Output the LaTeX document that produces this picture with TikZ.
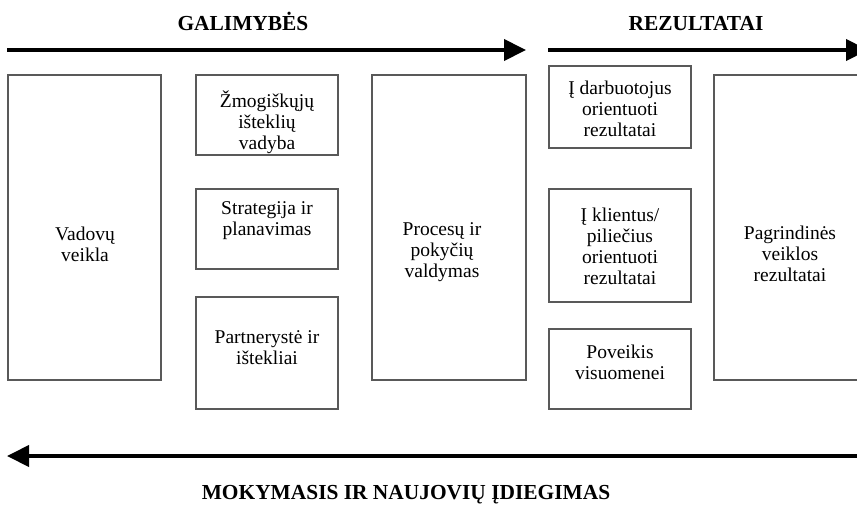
\documentclass[tikz,border=0pt]{standalone}
\usepackage{fontspec}
\setmainfont{Liberation Serif}
\usetikzlibrary{arrows.meta}
\begin{document}
\begin{tikzpicture}[x=1pt,y=-1pt,
  boxst/.style={draw=black!65, line width=1.3pt, inner sep=0pt},
  txt/.style={align=center, font=\fontsize{19.5}{21}\selectfont, inner sep=0pt},
  ttl/.style={font=\fontsize{21.4}{24}\selectfont\bfseries, inner sep=0pt, anchor=base},
  bigarrow/.style={line width=4pt, -{Triangle[length=22pt,width=21pt]}}]
\useasboundingbox (0,0) rectangle (857,504);
% boxes
\node[boxst, minimum width=153pt, minimum height=305pt] (vad) at (84.5,227.5) {};
\node[boxst, minimum width=142pt, minimum height=80pt] (zmo) at (267,115) {};
\node[boxst, minimum width=142pt, minimum height=80pt] (str) at (267,229) {};
\node[boxst, minimum width=142pt, minimum height=112pt] (par) at (267,353) {};
\node[boxst, minimum width=154pt, minimum height=305pt] (pro) at (449,227.5) {};
\node[boxst, minimum width=142pt, minimum height=82pt] (dar) at (620,107) {};
\node[boxst, minimum width=142pt, minimum height=113pt] (kli) at (620,245.5) {};
\node[boxst, minimum width=142pt, minimum height=80pt] (pov) at (620,369) {};
% right box, cut off by the page edge
\draw[boxst] (870,75) -- (714,75) -- (714,380) -- (870,380);
% texts
\node[txt] (tvad) at (85,244) {Vadovų\\veikla};
\node[txt] (tzmo) at (267,122) {Žmogiškųjų\\išteklių\\vadyba};
\node[txt] (tstr) at (267,221) {Strategija ir\\planavimas};
\node[txt] (tpar) at (267,348) {Partnerystė ir\\ištekliai};
\node[txt] (tpro) at (442,252) {Procesų ir\\pokyčių\\valdymas};
\node[txt] (tdar) at (620,109) {Į darbuotojus\\orientuoti\\rezultatai};
\node[txt] (tkli) at (620,246) {Į klientus/\\piliečius\\orientuoti\\rezultatai};
\node[txt] (tpov) at (620,362) {Poveikis\\visuomenei};
\node[txt] (tpag) at (790,254) {Pagrindinės\\veiklos\\rezultatai};
% titles
\node[ttl] (gal) at (243,30) {GALIMYBĖS};
\node[ttl] (rez) at (696,30) {REZULTATAI};
\node[ttl] (mok) at (406,499) {MOKYMASIS IR NAUJOVIŲ ĮDIEGIMAS};
% arrows
\coordinate (a1s) at (7,50);
\coordinate (a1e) at (526,50);
\coordinate (a2s) at (548,50);
\coordinate (a2e) at (868,50);
\coordinate (a3s) at (870,456);
\coordinate (a3e) at (7,456);
\draw[bigarrow] (a1s) -- (a1e);
\draw[bigarrow] (a2s) -- (a2e);
\draw[bigarrow] (a3s) -- (a3e);
\end{tikzpicture}
\end{document}
